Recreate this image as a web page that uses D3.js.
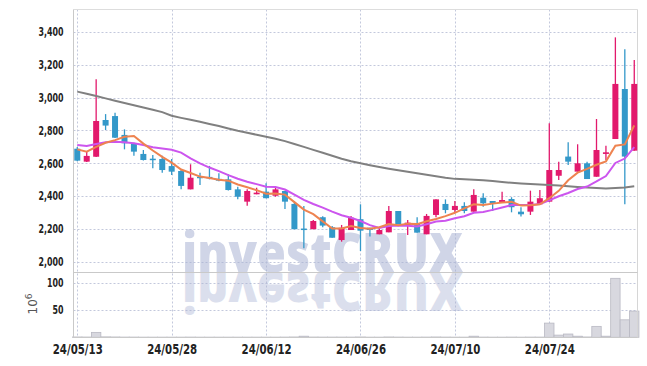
<!DOCTYPE html>
<html><head><meta charset="utf-8">
<script src="https://cdn.jsdelivr.net/npm/d3@7"></script>
<style>body{margin:0;background:#fff}svg{display:block}</style>
</head><body>
<svg id="c" width="647" height="366"></svg>
<script>
const dates = ["24/05/13","24/05/14","24/05/16","24/05/17","24/05/20","24/05/21","24/05/22","24/05/23","24/05/24","24/05/27",
"24/05/28","24/05/29","24/05/30","24/05/31","24/06/03","24/06/04","24/06/05","24/06/07","24/06/10","24/06/11",
"24/06/12","24/06/13","24/06/14","24/06/17","24/06/18","24/06/19","24/06/20","24/06/21","24/06/24","24/06/25",
"24/06/26","24/06/27","24/06/28","24/07/01","24/07/02","24/07/03","24/07/04","24/07/05","24/07/08","24/07/09",
"24/07/10","24/07/11","24/07/12","24/07/15","24/07/16","24/07/17","24/07/18","24/07/19","24/07/22","24/07/23",
"24/07/24","24/07/25","24/07/26","24/07/29","24/07/30","24/07/31","24/08/01","24/08/02","24/08/05","24/08/06"];
const open  = [2689,2610,2640,2864,2888,2773,2722,2657,2628,2626,2583,2553,2441,2518,2517,2505,2502,2441,2366,2411,
2427,2402,2431,2352,2202,2198,2271,2210,2132,2193,2259,2207,2167,2179,2309,2224,2234,2167,2285,2352,
2315,2340,2305,2390,2370,2360,2382,2305,2305,2350,2366,2524,2641,2549,2600,2518,2657,2748,3053,2677];
const high  = [2700,2671,3112,2900,2908,2807,2726,2681,2650,2646,2626,2565,2594,2543,2584,2540,2533,2457,2441,2451,
2478,2451,2433,2366,2339,2254,2277,2218,2224,2279,2350,2207,2207,2340,2309,2254,2271,2291,2380,2380,
2370,2362,2441,2417,2370,2427,2393,2332,2433,2437,2844,2610,2728,2716,2610,2870,2707,3368,3295,3230];
const low   = [2612,2608,2638,2803,2754,2685,2646,2617,2570,2543,2529,2441,2441,2468,2502,2490,2434,2380,2341,2411,
2387,2396,2321,2198,2082,2198,2210,2146,2122,2193,2065,2153,2167,2179,2228,2163,2177,2167,2271,2295,
2299,2295,2305,2335,2309,2360,2301,2275,2285,2350,2366,2498,2590,2549,2504,2518,2620,2748,2350,2677];
const close = [2616,2645,2858,2830,2756,2722,2671,2620,2622,2559,2549,2462,2512,2513,2514,2494,2437,2396,2431,2421,
2387,2441,2366,2198,2196,2248,2220,2146,2207,2268,2189,2193,2193,2309,2228,2238,2177,2279,2380,2315,
2340,2309,2407,2356,2356,2376,2332,2289,2366,2387,2559,2559,2610,2600,2504,2681,2667,3084,2641,3084];
const volume = [0.6,0.5,9,0.8,0.6,0.4,0.4,0.3,0.3,0.3,0.3,0.3,0.4,0.3,0.3,0.3,0.3,0.3,0.3,0.3,
0.3,0.3,0.4,0.6,2,0.5,0.4,0.4,0.4,0.4,0.6,0.3,0.3,0.6,0.4,0.3,0.3,0.4,0.6,0.4,
0.3,0.3,2,0.4,0.3,0.3,0.4,0.3,0.4,0.4,26,4,6,2,0.6,20,2,108,32,48];
const ma5  = [2685,2671,2700,2725,2741,2762,2767,2720,2678,2639,2604,2562,2541,2519,2510,2499,2494,2471,2454,2436,
2414,2415,2409,2363,2318,2290,2246,2202,2203,2218,2206,2201,2210,2230,2222,2232,2229,2246,2260,2278,
2298,2325,2350,2345,2354,2361,2365,2342,2344,2350,2387,2432,2496,2543,2566,2591,2612,2707,2715,2831];
const ma10 = [2712,2706,2718,2728,2732,2728,2722,2712,2698,2690,2683,2665,2630,2599,2574,2552,2528,2506,2487,2473,
2457,2455,2440,2409,2377,2352,2330,2305,2283,2268,2248,2223,2206,2217,2220,2219,2215,2228,2245,2250,
2265,2277,2298,2303,2316,2330,2345,2346,2345,2352,2374,2399,2419,2443,2458,2489,2522,2602,2629,2699];
const ma60 = [3037,3024,3010,2996,2982,2968,2954,2940,2926,2912,2890,2877,2865,2853,2840,2827,2812,2798,2786,2774,
2762,2750,2735,2718,2700,2682,2664,2646,2628,2612,2600,2588,2577,2567,2557,2548,2539,2530,2521,2512,
2505,2502,2500,2497,2492,2486,2481,2477,2474,2471,2468,2464,2460,2456,2452,2449,2447,2449,2452,2460];
const priceTicks = [2000,2200,2400,2600,2800,3000,3200,3400];
const volumeTicks = [50,100];
const dateTickIdx = [0,10,20,30,40,50];

const UP = "#e2196c", DOWN = "#3398c9";
const FONT = "'Liberation Sans Narrow','DejaVu Sans Condensed','Arial Narrow',sans-serif";
const L = 73.5, R = 637.5, T = 9.5, SEP = 272.5, B = 337.5;

const svg = d3.select("#c");
const x = d3.scaleLinear().domain([-0.4, 59.29]).range([73.5, 637]);
const y = d3.scaleLinear().domain([1937, 3541]).range([272, 9]);
const yv = d3.scaleLinear().domain([0, 119]).range([337.3, 272.3]);
const idx = d3.range(dates.length);

// gridlines
const grid = svg.append("g").attr("stroke", "#c3c8dc").attr("stroke-dasharray", "2,2").attr("stroke-width", 1);
grid.selectAll(".hg").data(priceTicks).join("line")
  .attr("x1", L).attr("x2", R).attr("y1", d => Math.round(y(d)) + 0.5).attr("y2", d => Math.round(y(d)) + 0.5);
grid.selectAll(".vg").data(volumeTicks).join("line")
  .attr("x1", L).attr("x2", R).attr("y1", d => Math.round(yv(d)) + 0.5).attr("y2", d => Math.round(yv(d)) + 0.5);
grid.selectAll(".xg").data(dateTickIdx).join("line")
  .attr("x1", d => Math.round(x(d)) + 0.5).attr("x2", d => Math.round(x(d)) + 0.5).attr("y1", T).attr("y2", B);

// watermark with reflection
const defs = svg.append("defs");
defs.append("clipPath").attr("id", "volclip").append("rect").attr("x", L).attr("y", SEP).attr("width", R - L).attr("height", B - SEP);
defs.append("clipPath").attr("id", "priceclip").append("rect").attr("x", L).attr("y", T).attr("width", R - L).attr("height", SEP - T);
svg.append("g").attr("clip-path", "url(#priceclip)").append("text").attr("id", "wm")
  .attr("x", 182).attr("y", 272)
  .attr("font-family", "'Open Sans','Noto Sans',sans-serif").attr("font-weight", 800).attr("font-size", 55)
  .attr("textLength", 281).attr("lengthAdjust", "spacingAndGlyphs")
  .attr("fill", "#a9b3d4").attr("opacity", 0.55).text("investCRUX");
svg.append("g").attr("clip-path", "url(#volclip)").append("use").attr("href", "#wm")
  .attr("transform", "translate(0,544) scale(1,-1)").attr("opacity", 0.75);

// volume bars
svg.append("g").selectAll("rect").data(idx).join("rect")
  .attr("x", i => x(i) - 4.7).attr("width", 9.4)
  .attr("y", i => yv(volume[i])).attr("height", i => yv(0) - yv(volume[i]))
  .attr("fill", "#d8d8df").attr("stroke", "#b9b9c3").attr("stroke-width", 0.8);

// frame
const fr = svg.append("g").attr("fill", "none");
fr.append("line").attr("x1", L).attr("x2", R).attr("y1", T).attr("y2", T).attr("stroke", "#dddddd");
fr.append("line").attr("x1", R).attr("x2", R).attr("y1", T).attr("y2", B).attr("stroke", "#d6d6d6");
fr.append("line").attr("x1", L).attr("x2", R).attr("y1", SEP).attr("y2", SEP).attr("stroke", "#c9c9c9");
fr.append("line").attr("x1", L).attr("x2", R).attr("y1", B).attr("y2", B).attr("stroke", "#c9c9c9");
fr.append("line").attr("x1", L).attr("x2", L).attr("y1", T).attr("y2", B).attr("stroke", "#c9c9c9");

// candles
const cg = svg.append("g");
cg.selectAll("line").data(idx).join("line")
  .attr("x1", i => x(i)).attr("x2", i => x(i))
  .attr("y1", i => y(high[i])).attr("y2", i => y(low[i]))
  .attr("stroke", i => close[i] >= open[i] ? UP : DOWN).attr("stroke-width", 1.3);
cg.selectAll("rect").data(idx).join("rect")
  .attr("x", i => x(i) - 3).attr("width", 6)
  .attr("y", i => y(Math.max(open[i], close[i])))
  .attr("height", i => Math.max(1.5, Math.abs(y(open[i]) - y(close[i]))))
  .attr("fill", i => close[i] >= open[i] ? UP : DOWN);

// moving averages
const line = arr => d3.line().x(i => x(i)).y(i => y(arr[i]))(idx);
svg.append("path").attr("d", line(ma60)).attr("fill", "none").attr("stroke", "#808080").attr("stroke-width", 2);
svg.append("path").attr("d", line(ma10)).attr("fill", "none").attr("stroke", "#cc55ee").attr("stroke-width", 2);
svg.append("path").attr("d", line(ma5)).attr("fill", "none").attr("stroke", "#ee8350").attr("stroke-width", 2);

// axes labels
const yAx = svg.append("g").attr("transform", "translate(" + L + ",0)")
  .call(d3.axisLeft(y).tickValues(priceTicks).tickFormat(d3.format(",")).tickSize(0).tickPadding(10));
const yvAx = svg.append("g").attr("transform", "translate(" + L + ",0)")
  .call(d3.axisLeft(yv).tickValues(volumeTicks).tickFormat(d3.format("d")).tickSize(0).tickPadding(10));
const xAx = svg.append("g").attr("transform", "translate(0," + B + ")")
  .call(d3.axisBottom(x).tickValues(dateTickIdx).tickFormat(i => dates[i]).tickSize(0).tickPadding(6));
[yAx, yvAx, xAx].forEach(a => {
  a.select(".domain").remove();
  a.selectAll("text").attr("font-family", FONT).attr("font-weight", "bold").attr("fill", "#222");
});
yAx.selectAll("text").attr("font-size", 12);
yvAx.selectAll("text").attr("font-size", 12);
xAx.selectAll("text").attr("font-size", 14.5);
// narrow the glyphs to match the condensed face of the reference
const squeeze = (sel, k) => sel.each(function () {
  const w = this.getComputedTextLength();
  d3.select(this).attr("textLength", w * k).attr("lengthAdjust", "spacingAndGlyphs");
});
const refY = yAx.select("text").node().getComputedTextLength();
squeeze(yAx.selectAll("text"), 25 / refY);
squeeze(yvAx.selectAll("text"), 25 / refY);
const refX = xAx.select("text").node().getComputedTextLength();
squeeze(xAx.selectAll("text"), 50 / refX);

// unit label
const ul = svg.append("text").attr("transform", "translate(37,304) rotate(-90)")
  .attr("text-anchor", "middle").attr("font-family", "'DejaVu Sans',sans-serif").attr("font-size", 12).attr("fill", "#555");
ul.append("tspan").text("10");
ul.append("tspan").attr("dy", -5).attr("font-size", 9).text("6");
</script>
</body></html>
